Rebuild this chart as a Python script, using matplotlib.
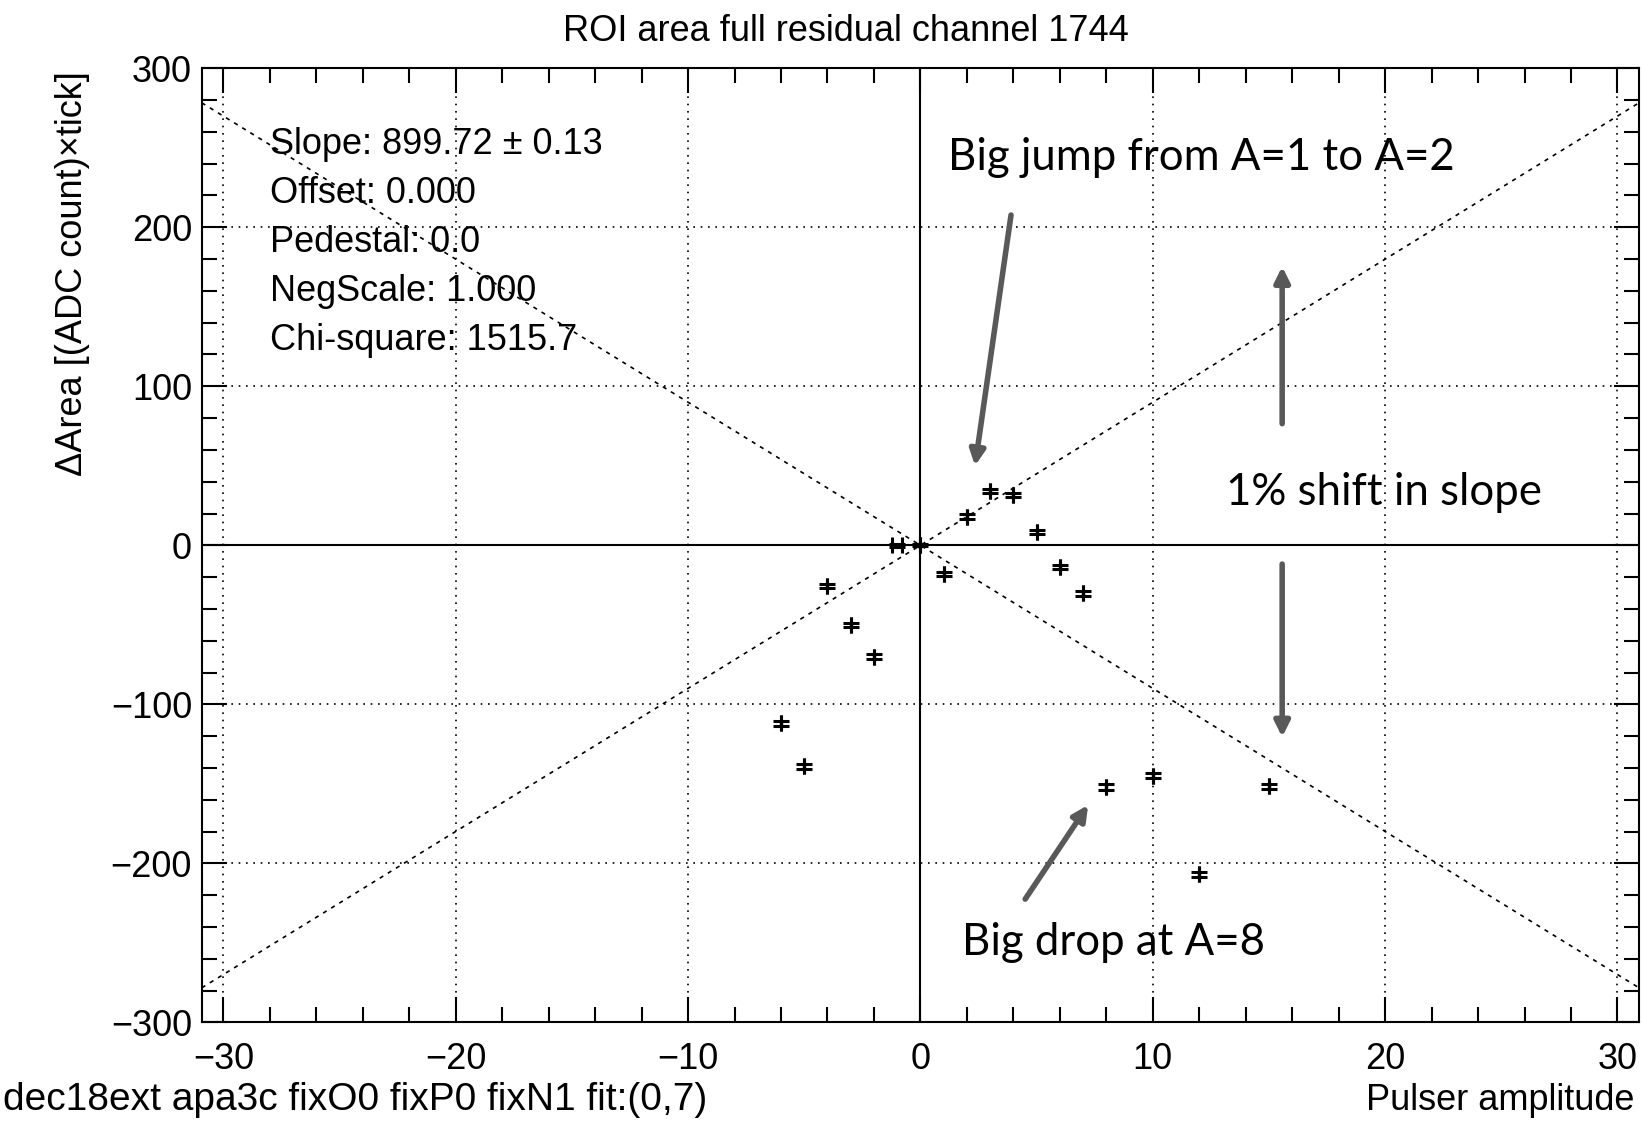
import numpy as np
import matplotlib.pyplot as plt

# residuals of the ROI area fit, per pulser amplitude
amplitude = [-6, -5, -4, -3, -2, -1, 0, 1, 2, 3, 4, 5, 6, 7, 8, 10, 12, 15]
delta_area = [-112, -139, -25.5, -50, -70, 0, 0, -18, 18, 34.3, 31.6, 8.3,
              -13.5, -30.2, -152, -145, -207, -151.5]
delta_err = [1.6, 1.6, 1.4, 1.4, 1.4, 1.0, 0.6, 1.4, 1.4, 1.4, 1.4, 1.4,
             1.4, 1.4, 1.6, 1.6, 1.6, 1.6]
amp_err = [0, 0, 0, 0, 0, 0.22, 0, 0, 0, 0, 0, 0, 0, 0, 0, 0, 0, 0]

slope = 899.72
shift_frac = 0.01  # +-1% band around the fitted slope

stats_lines = ["Slope: 899.72 \u00b1 0.13", "Offset: 0.000", "Pedestal: 0.0",
               "NegScale: 1.000", "Chi-square: 1515.7"]

x_range = (-30.93, 30.93)
y_range = (-300, 300)

plt.rcParams["font.family"] = ["Liberation Sans", "DejaVu Sans"]
fs = 26

fig = plt.figure(figsize=(16.43, 11.21), dpi=100)
ax = fig.add_axes([0.1228, 0.0880, 0.8748, 0.8511])
ax.set_xlim(*x_range)
ax.set_ylim(*y_range)

# grid at major ticks
for gx in [-30, -20, -10, 10, 20, 30]:
    ax.axvline(gx, color="black", lw=1.2, ls=(0, (1, 3.4)), zorder=1)
for gy in [-200, -100, 100, 200]:
    ax.axhline(gy, color="black", lw=1.2, ls=(0, (1, 3.4)), zorder=1)
ax.axvline(0, color="black", lw=1.5, zorder=2)
ax.axhline(0, color="black", lw=1.5, zorder=2)

# 1% slope shift lines
xl = np.array(x_range)
ax.plot(xl, shift_frac * slope * xl, color="black", lw=1.2, ls=(0, (2.5, 3.2)), zorder=3)
ax.plot(xl, -shift_frac * slope * xl, color="black", lw=1.2, ls=(0, (2.5, 3.2)), zorder=3)

ax.errorbar(amplitude, delta_area, yerr=delta_err, xerr=amp_err, fmt="none",
            ecolor="black", elinewidth=2.4, capsize=5.5, capthick=2.2, zorder=4)
ax.plot([0], [0], "s", color="black", ms=3, zorder=4)

ax.set_xticks(np.arange(-30, 31, 10))
ax.set_xticks(np.arange(-30, 31, 2), minor=True)
ax.set_yticks(np.arange(-300, 301, 100))
ax.set_yticks(np.arange(-300, 301, 20), minor=True)
ax.tick_params(which="both", direction="in", top=True, right=True, width=1.5,
               labelsize=fs, color="black")
ax.tick_params(which="major", length=18)
ax.tick_params(which="minor", length=10.5)
ax.tick_params(axis="x", which="major", pad=14)
ax.tick_params(axis="y", which="major", pad=7)
for sp in ax.spines.values():
    sp.set_linewidth(1.5)

# fit summary
for i, line in enumerate(stats_lines):
    fig.text(270 / 1643, 1 - (144.6 + 49 * i) / 1121, line, fontsize=fs,
             ha="left", va="center")

fig.text(846 / 1643, 1 - 31.4 / 1121, "ROI area full residual channel 1744",
         fontsize=fs, ha="center", va="center")
fig.text(73 / 1643, 1 - 71 / 1121, "\u0394Area [(ADC count)\u00d7tick]",
         fontsize=fs, rotation=90, ha="center", va="top")
fig.text(1634.6 / 1643, 1 - 1100 / 1121, "Pulser amplitude", fontsize=fs,
         ha="right", va="center")
fig.text(3 / 1643, 1 - 1100 / 1121, "dec18ext apa3c fixO0 fixP0 fixN1 fit:(0,7)",
         fontsize=28, ha="left", va="center")

# notes on top of the plot
note_font = dict(family=["Lato", "DejaVu Sans"], fontsize=31.5, color="black")
arrow_kw = dict(arrowstyle="-|>,head_length=0.9,head_width=0.45", color="#595959",
                lw=4, shrinkA=0, shrinkB=0)
ax.text(1.19, 244, "Big jump from A=1 to A=2", ha="left", va="center", **note_font)
ax.annotate("", xy=(2.35, 50), xytext=(3.9, 207.7), arrowprops=arrow_kw)
ax.text(13.16, 33, "1% shift in slope", ha="left", va="center", **note_font)
ax.annotate("", xy=(15.57, 175.3), xytext=(15.57, 76.5), arrowprops=arrow_kw)
ax.annotate("", xy=(15.57, -120.6), xytext=(15.57, -11.8), arrowprops=arrow_kw)
ax.text(1.8, -250, "Big drop at A=8", ha="left", va="center", **note_font)
ax.annotate("", xy=(7.22, -163.3), xytext=(4.51, -222.5), arrowprops=arrow_kw)

fig.savefig("out.png", dpi=100)
